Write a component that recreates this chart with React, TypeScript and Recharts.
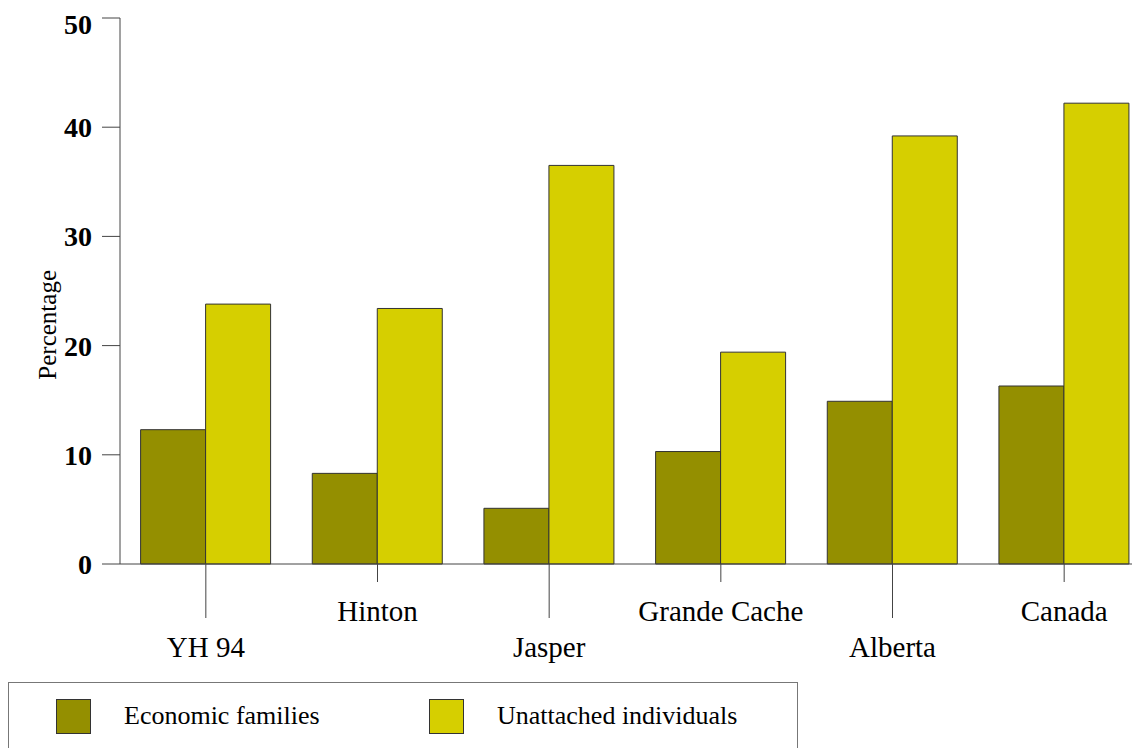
import { BarChart, Bar, XAxis, YAxis, Legend } from 'recharts';

const categories = ['YH 94', 'Hinton', 'Jasper', 'Grande Cache', 'Alberta', 'Canada'];
const economicFamilies = [12.3, 8.3, 5.1, 10.3, 14.9, 16.3];
const unattachedIndividuals = [23.8, 23.4, 36.5, 19.4, 39.2, 42.2];
const yTicks = [0, 10, 20, 30, 40, 50];

const data = categories.map((name, i) => ({
    name,
    economic: economicFamilies[i],
    unattached: unattachedIndividuals[i],
}));

const FONT = '"Liberation Serif", "Times New Roman", serif';
const AXIS = '#444';

function CategoryTick(props: any) {
    const { x, y, payload, index } = props;
    const low = index % 2 === 0;
    return (
        <g>
            <line x1={x} y1={y} x2={x} y2={y + (low ? 54 : 18)} stroke={AXIS} strokeWidth={1} />
            <text x={x} y={y + (low ? 93 : 57)} textAnchor="middle" fontSize={29} fill="#000" fontFamily={FONT}>
                {payload.value}
            </text>
        </g>
    );
}

function PercentLabel(props: any) {
    const { viewBox } = props;
    const cx = 48;
    const cy = viewBox.y + viewBox.height * 0.562;
    return (
        <text x={cx} y={cy} transform={`rotate(-90, ${cx}, ${cy})`} textAnchor="middle" fontSize={25} fill="#000" fontFamily={FONT}>
            Percentage
        </text>
    );
}

function LegendBox(props: any) {
    const items = props.payload || [];
    const offsets = [47, 420];
    return (
        <div style={{ width: 790, height: 80, border: '1px solid #777', boxSizing: 'border-box', position: 'relative', background: '#fff' }}>
            {items.map((item: any, i: number) => (
                <div key={item.value}>
                    <div style={{ position: 'absolute', left: offsets[i], top: 16, width: 35, height: 35, background: item.color, border: '1px solid #333', boxSizing: 'border-box' }} />
                    <div style={{ position: 'absolute', left: offsets[i] + 68, top: 17, fontSize: 26, lineHeight: '32px', fontFamily: FONT, color: '#000', whiteSpace: 'nowrap' }}>
                        {item.value}
                    </div>
                </div>
            ))}
        </div>
    );
}

export default function App() {
    return (
        <div style={{ width: 1132, height: 740, overflow: 'hidden', position: 'relative', fontFamily: FONT }}>
            <BarChart
                width={1142}
                height={745}
                data={data}
                margin={{ top: 10, right: 0, bottom: 79, left: 0 }}
                barCategoryGap="12%"
                barGap={0}
            >
                <XAxis
                    dataKey="name"
                    height={110}
                    axisLine={{ stroke: AXIS, strokeWidth: 1 }}
                    tickLine={false}
                    tickSize={0}
                    tickMargin={0}
                    interval={0}
                    tick={<CategoryTick />}
                />
                <YAxis
                    width={112}
                    domain={[0, 50]}
                    ticks={yTicks}
                    axisLine={{ stroke: AXIS, strokeWidth: 1 }}
                    tickLine={{ stroke: AXIS, strokeWidth: 1 }}
                    tickSize={18}
                    tickMargin={10}
                    tick={{ fontSize: 28, fontWeight: 'bold', fill: '#000', fontFamily: FONT }}
                    label={<PercentLabel />}
                />
                <Legend
                    verticalAlign="middle"
                    layout="horizontal"
                    wrapperStyle={{ left: 0, top: 674, width: 790, height: 80 }}
                    content={<LegendBox />}
                />
                <Bar dataKey="economic" name="Economic families" fill="#948f00" stroke="#333" strokeWidth={1} isAnimationActive={false} />
                <Bar dataKey="unattached" name="Unattached individuals" fill="#d6cf00" stroke="#333" strokeWidth={1} isAnimationActive={false} />
            </BarChart>
        </div>
    );
}
